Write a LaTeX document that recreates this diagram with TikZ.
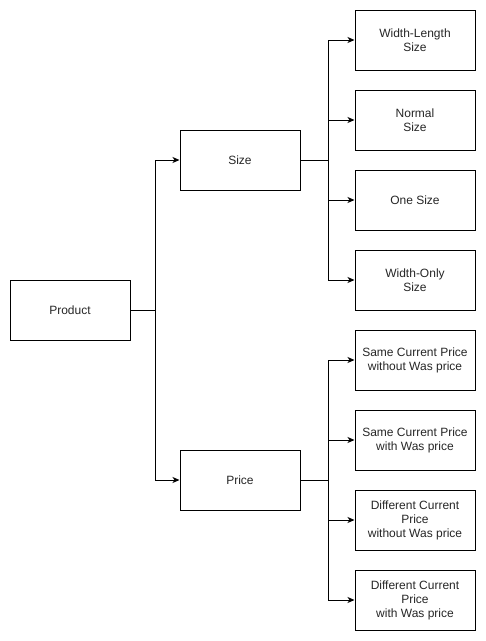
\documentclass[tikz,border=0pt]{standalone}
\usepackage{fontspec}
\setmainfont{Liberation Sans}
\usetikzlibrary{arrows.meta}
\begin{document}
\begin{tikzpicture}[x=1pt,y=-1pt,
  box/.style={draw=black,line width=1pt,minimum width=120pt,minimum height=60pt,align=center,inner sep=0pt,font=\fontsize{12}{14}\selectfont,text=black!85},
  conn/.style={draw=black,line width=1pt,-{Stealth[length=7pt,width=6pt,inset=2pt]}}]
\useasboundingbox (0,0) rectangle (486,641);
\node[box] (product) at (70,310) {Product};
\node[box] (size) at (240,160) {Size};
\node[box] (price) at (240,480) {Price};
\node[box] (s1) at (415,40) {Width-Length\\Size};
\node[box] (s2) at (415,120) {Normal\\Size};
\node[box] (s3) at (415,200) {One Size};
\node[box] (s4) at (415,280) {Width-Only\\Size};
\node[box] (p1) at (415,360) {Same Current Price\\without Was price};
\node[box] (p2) at (415,440) {Same Current Price\\with Was price};
\node[box] (p3) at (415,520) {Different Current\\Price\\without Was price};
\node[box] (p4) at (415,600) {Different Current\\Price\\with Was price};
\foreach \t in {size,price}
  \draw[conn] (product.east) -- ++(25,0) |- (\t.west);
\foreach \t in {s1,s2,s3,s4}
  \draw[conn] (size.east) -- ++(28,0) |- (\t.west);
\foreach \t in {p1,p2,p3,p4}
  \draw[conn] (price.east) -- ++(28,0) |- (\t.west);
\end{tikzpicture}
\end{document}
